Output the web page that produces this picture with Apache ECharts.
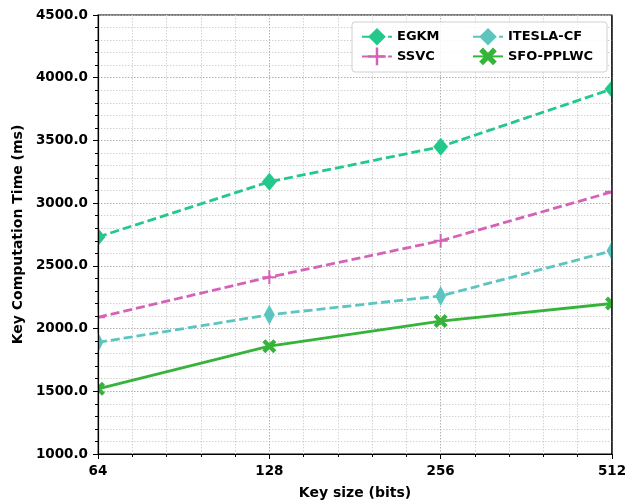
<!DOCTYPE html>
<html>
<head>
<meta charset="utf-8">
<script src="https://cdn.jsdelivr.net/npm/echarts@6/dist/echarts.min.js"></script>
<style>
  html, body { margin: 0; padding: 0; background: #fff; }
  #chart { width: 639px; height: 504px; }
</style>
</head>
<body>
<div id="chart"></div>
<script>
// Key sizes (bits) and key computation time (ms) per scheme
const keySizes = [64, 128, 256, 512];
const egkm = [2730, 3170, 3450, 3910];
const ssvc = [2090, 2410, 2700, 3090];
const itesla = [1890, 2110, 2260, 2620];
const sfoPplwc = [1520, 1860, 2060, 2200];
const yTicks = [1000, 4500, 500];

const FONT = 'DejaVu Sans';
const plusPath = 'path://M-1,-7H1V-1H7V1H1V7H-1V1H-7V-1H-1Z';
const xPath = 'path://M-3.2,-5.6L0,-2.4L3.2,-5.6L5.6,-3.2L2.4,0L5.6,3.2L3.2,5.6L0,2.4L-3.2,5.6L-5.6,3.2L-2.4,0L-5.6,-3.2Z';

// Plot box in pixels
const G = { left: 98, right: 27, top: 15, bottom: 50, w: 639, h: 504 };

// The x axis runs on log2(key size) so that the base-2 spacing and the evenly
// spaced minor grid come straight from a value scale; labels show 2^v.
const log2Keys = keySizes.map(k => Math.log2(k));
function pairs(vals) { return log2Keys.map((k, i) => [k, vals[i]]); }

function makeSeries(name, vals, color, symbol, size, dashed) {
  return {
    name: name,
    type: 'line',
    data: pairs(vals),
    symbol: symbol,
    symbolSize: size,
    showSymbol: true,
    itemStyle: { color: color },
    lineStyle: { color: color, width: 2.8, type: dashed ? [9, 4] : 'solid' },
    z: 5
  };
}

const chart = echarts.init(document.getElementById('chart'), null, { renderer: 'canvas' });
const legendText = { fontFamily: FONT, fontWeight: 'bold', fontSize: 13, color: '#000' };
const gridMajor = { show: true, lineStyle: { color: '#b0b0b0', type: [1.5, 1.5], width: 1 } };
const gridMinor = { show: true, lineStyle: { color: '#d2d2d2', type: [1.5, 1.5], width: 1 } };
const yLabelStyle = { fontFamily: FONT, fontWeight: 'bold', fontSize: 13.5, color: '#000', margin: 10, formatter: v => v.toFixed(1) };

const plotBottom = G.h - G.bottom;
const plotRight = G.w - G.right;

chart.setOption({
  animation: false,
  backgroundColor: '#fff',
  grid: {
    left: G.left, right: G.right, top: G.top, bottom: G.bottom,
    outerBoundsMode: 'none', containLabel: false,
    show: true, borderColor: '#000', borderWidth: 1.2, backgroundColor: 'transparent'
  },
  xAxis: {
    type: 'value',
    min: log2Keys[0],
    max: log2Keys[log2Keys.length - 1],
    interval: 1,
    name: 'Key size (bits)',
    nameLocation: 'middle',
    nameGap: 32,
    nameTextStyle: { fontFamily: FONT, fontWeight: 'bold', fontSize: 14, color: '#000' },
    axisLine: { show: true, lineStyle: { color: '#000', width: 1.2 } },
    axisTick: { show: true, length: 5, lineStyle: { color: '#000' } },
    minorTick: { show: true, splitNumber: 5, length: 3, lineStyle: { color: '#000' } },
    axisLabel: { fontFamily: FONT, fontWeight: 'bold', fontSize: 13.5, color: '#000', margin: 10, formatter: v => String(Math.round(Math.pow(2, v))) },
    splitLine: gridMajor,
    minorSplitLine: gridMinor
  },
  yAxis: [
    {
      // grid lines only, kept beneath the series
      type: 'value',
      min: yTicks[0], max: yTicks[1], interval: yTicks[2],
      axisLine: { show: false }, axisTick: { show: false }, axisLabel: { show: false },
      minorTick: { show: false, splitNumber: 5 },
      splitLine: gridMajor,
      minorSplitLine: gridMinor
    },
    {
      // spine, ticks, labels and title, drawn above the edge masks
      type: 'value',
      position: 'left',
      z: 10,
      min: yTicks[0], max: yTicks[1], interval: yTicks[2],
      name: 'Key Computation Time (ms)',
      nameLocation: 'middle',
      nameGap: 70,
      nameTextStyle: { fontFamily: FONT, fontWeight: 'bold', fontSize: 14, color: '#000' },
      axisLine: { show: true, lineStyle: { color: '#000', width: 1.2 } },
      axisTick: { show: true, length: 5, lineStyle: { color: '#000' } },
      minorTick: { show: true, splitNumber: 5, length: 3, lineStyle: { color: '#000' } },
      axisLabel: yLabelStyle,
      splitLine: { show: false },
      minorSplitLine: { show: false }
    }
  ],
  legend: [
    { data: ['EGKM', 'SSVC'], orient: 'vertical', left: 356, top: 23, itemWidth: 30, itemHeight: 22, itemGap: 2, textStyle: legendText, z: 12 },
    { data: ['ITESLA-CF', 'SFO-PPLWC'], orient: 'vertical', left: 467, top: 23, itemWidth: 30, itemHeight: 22, itemGap: 2, textStyle: legendText, z: 12 }
  ],
  graphic: [
    {
      // markers are clipped at the left and right edges of the plot box
      type: 'rect', z: 8, silent: true,
      shape: { x: G.left - 16, y: G.top, width: 15.4, height: plotBottom - G.top },
      style: { fill: '#fff' }
    },
    {
      type: 'rect', z: 8, silent: true,
      shape: { x: plotRight + 0.6, y: G.top - 2, width: 16, height: plotBottom - G.top + 2 },
      style: { fill: '#fff' }
    },
    {
      type: 'line', z: 9, silent: true,
      shape: { x1: plotRight, y1: G.top, x2: plotRight, y2: plotBottom },
      style: { stroke: '#000', lineWidth: 1.2 }
    },
    {
      type: 'rect', z: 11, silent: true,
      shape: { x: 352, y: 22, width: 255, height: 50, r: 3 },
      style: { fill: 'rgba(255,255,255,0.85)', stroke: '#d0d0d0', lineWidth: 1 }
    }
  ],
  series: [
    makeSeries('EGKM', egkm, '#22c98a', 'diamond', [15, 18], true),
    makeSeries('SSVC', ssvc, '#d463b8', plusPath, [14, 14], true),
    makeSeries('ITESLA-CF', itesla, '#5cc5c0', 'diamond', [11, 20], true),
    makeSeries('SFO-PPLWC', sfoPplwc, '#36b43a', xPath, [14, 14], false)
  ]
});
</script>
</body>
</html>
